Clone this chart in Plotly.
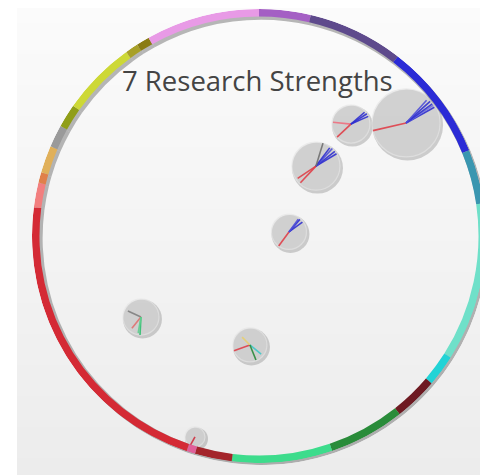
import numpy as np
import plotly.graph_objects as go

# ring segments, angles in degrees clockwise from 12 o'clock
seg_start = [0, 13.2, 37.7, 67.8, 81.7, 122.4, 130.5, 141.7, 161.2, 186.9, 196.4,
             198.6, 277.3, 283.6, 286.3, 293.3, 299.0, 305.0, 324.2, 327.5, 330.9]
seg_end = [13.2, 37.7, 67.8, 81.7, 122.4, 130.5, 141.7, 161.2, 186.9, 196.4, 198.6,
           277.3, 283.6, 286.3, 293.3, 299.0, 305.0, 324.2, 327.5, 330.9, 360]
seg_colors = ['#a45fc4', '#5e4a8c', '#2b2bd6', '#3a96b0', '#6fe0c9', '#22d3d6',
              '#6e1a22', '#2a8c3a', '#3ddc8c', '#a3242a', '#e0609a', '#d42a35',
              '#f27f7f', '#e0804a', '#e0b05a', '#9a9a9a', '#909e18', '#cdd836',
              '#a8a028', '#8a7c14', '#e89ae6']

# the seven strengths (position inside the ring, ring radius = 1)
bubble_x = [0.648, 0.405, 0.251, 0.132, -0.520, -0.040, -0.282]
bubble_y = [0.498, 0.493, 0.308, 0.018, -0.357, -0.480, -0.885]
bubble_d = [68, 38, 48, 35, 36, 34, 20]

# spokes: which bubble, angle (deg, ccw from east), length (fraction of bubble radius), colour
spoke_bubble = [0, 0, 0, 0, 0, 0,
                1, 1, 1, 1, 1,
                2, 2, 2, 2, 2, 2, 2,
                3, 3, 3, 3,
                4, 4, 4, 4,
                5, 5, 5, 5,
                6]
spoke_angle = [193, 29, 33, 36, 42, 48,
               174, 223, 24, 33, 41,
               214, 227, 31, 38, 47, 53, 73,
               234, 36, 49, 54,
               155, 231, 267, 260,
               200, 135, 321, 292,
               241]
spoke_len = [1.0, 0.95, 0.95, 0.95, 0.95, 0.9,
             0.95, 1.0, 1.0, 1.0, 0.95,
             0.92, 0.95, 1.0, 1.0, 1.0, 0.95, 1.0,
             1.0, 0.95, 0.95, 0.9,
             0.8, 0.8, 1.0, 0.9,
             1.0, 0.65, 0.85, 0.95,
             1.0]
spoke_color = ['#e0404a', '#3030d0', '#7070e0', '#3030d0', '#3030d0', '#5050d8',
               '#f07080', '#e0404a', '#3030d0', '#3030d0', '#3030d0',
               '#e0404a', '#e0404a', '#3030d0', '#3030d0', '#5050d8', '#3030d0', '#707070',
               '#e0404a', '#3030d0', '#3030d0', '#5050d8',
               '#808080', '#e07070', '#30c070', '#60d090',
               '#e0404a', '#e8d070', '#40c8c8', '#2a8a3a',
               '#d03040']

PX = 227.0  # pixels per unit (ring outer radius)

# page body keeps its default 8px margin, so the figure is a bit smaller
W, H = 480, 467
cx, cy, R = 251, 228, 227

fig = go.Figure()

# background panel with soft vertical gradient
n_bands = 30
for i in range(n_bands):
    v = int(round(251 - 15 * i / (n_bands - 1)))
    fig.add_shape(type='rect', xref='paper', yref='paper', layer='below',
                  x0=9 / W, x1=1, y0=1 - (i + 1) / n_bands, y1=1 - i / n_bands + 0.002,
                  fillcolor=f'rgb({v},{v},{v})', line_width=0)

# bubble shadows
sx = 1.5 / PX
sy = 2.0 / PX
fig.add_trace(go.Scatter(
    x=[x + sx for x in bubble_x], y=[y - sy for y in bubble_y], mode='markers',
    marker=dict(size=[d + 3 for d in bubble_d], color='rgba(110,110,110,0.45)', line_width=0),
    hoverinfo='skip', showlegend=False))

# bubbles
fig.add_trace(go.Scatter(
    x=bubble_x, y=bubble_y, mode='markers',
    marker=dict(size=bubble_d, color='#d3d3d3', line=dict(color='#e6e6e6', width=1.2)),
    hoverinfo='skip', showlegend=False))

# spokes
for b, a, l, c in zip(spoke_bubble, spoke_angle, spoke_len, spoke_color):
    r = bubble_d[b] / 2 / PX * l
    x0, y0 = bubble_x[b], bubble_y[b]
    fig.add_trace(go.Scatter(
        x=[x0, x0 + r * np.cos(np.radians(a))], y=[y0, y0 + r * np.sin(np.radians(a))],
        mode='lines', line=dict(color=c, width=1.6), opacity=0.9,
        hoverinfo='skip', showlegend=False))

# ring shadow (polar) and ring (polar2, drawn on top)
mids = [(s + e) / 2 for s, e in zip(seg_start, seg_end)]
widths = [e - s for s, e in zip(seg_start, seg_end)]
fig.add_trace(go.Barpolar(theta=mids, width=widths, base=[0.962] * len(mids),
                          r=[0.038] * len(mids), subplot='polar',
                          marker=dict(color='rgba(80,80,80,0.4)', line_width=0),
                          hoverinfo='skip', showlegend=False))
fig.add_trace(go.Barpolar(theta=mids, width=widths, base=[0.967] * len(mids),
                          r=[0.033] * len(mids), subplot='polar2',
                          marker=dict(color=seg_colors, line_width=0),
                          hoverinfo='skip', showlegend=False))

polar_common = dict(
    bgcolor='rgba(0,0,0,0)',
    radialaxis=dict(visible=False, range=[0, 1]),
    angularaxis=dict(visible=False, rotation=90, direction='clockwise'),
)
fig.update_layout(
    width=W, height=H,
    margin=dict(l=0, r=0, t=0, b=0),
    paper_bgcolor='white', plot_bgcolor='rgba(0,0,0,0)',
    xaxis=dict(range=[-cx / PX, (W - cx) / PX], visible=False, fixedrange=True),
    yaxis=dict(range=[-(H - cy) / PX, cy / PX], visible=False, fixedrange=True),
    polar=dict(domain=dict(x=[(cx - R + 2) / W, (cx + R + 2) / W],
                           y=[(H - cy - R - 2) / H, (H - cy + R - 2) / H]), **polar_common),
    polar2=dict(domain=dict(x=[(cx - R) / W, (cx + R) / W],
                            y=[(H - cy - R) / H, (H - cy + R) / H]), **polar_common),
    annotations=[dict(text='7 Research Strengths', x=249 / W, y=1 - 73 / H,
                      xref='paper', yref='paper', showarrow=False,
                      xanchor='center', yanchor='middle',
                      font=dict(family='Open Sans', size=27.5, color='#444444'))],
)

fig.write_html('out.html')
